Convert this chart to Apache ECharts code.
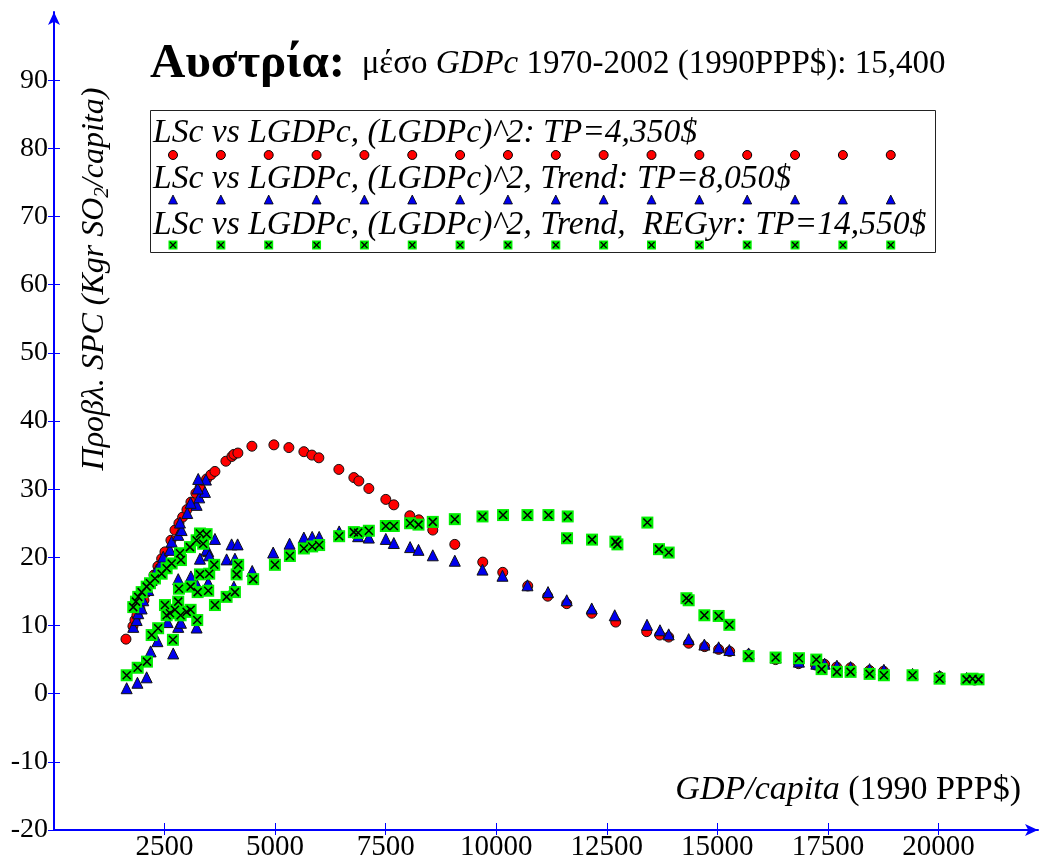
<!DOCTYPE html>
<html><head><meta charset="utf-8">
<script src="https://cdn.jsdelivr.net/npm/echarts@6/dist/echarts.min.js"></script>
<style>html,body{margin:0;padding:0;background:#fff}#c{width:1044px;height:863px}</style>
</head><body><div id="c"></div>
<script>
const xTicks = [2500,5000,7500,10000,12500,15000,17500,20000];
const yTicks = [-20,-10,0,10,20,30,40,50,60,70,80,90];
const legendLabels = [
  'LSc vs LGDPc, (LGDPc)^2: TP=4,350$',
  'LSc vs LGDPc, (LGDPc)^2, Trend: TP=8,050$',
  'LSc vs LGDPc, (LGDPc)^2, Trend,  REGyr: TP=14,550$'
];
const titleCountry = 'Αυστρία:';
const titleRest = ' 1970-2002 (1990PPP$): 15,400';
const yName = ['Προβλ. SPC (Kgr SO', '2', '/capita)'];
const xName = ['GDP/capita', ' (1990 PPP$)'];

const redModel = [[1627,8.0],[1785,9.9],[1831,10.8],[1876,11.5],[1944,12.4],[2034,13.7],[2102,14.9],[2192,16.2],[2260,17.4],[2350,18.7],[2434,19.8],[2509,20.8],[2644,22.5],[2735,24.0],[2825,25.0],[2909,25.9],[3006,27.0],[3096,28.1],[3209,29.4],[3300,30.2],[3451,31.5],[3548,32.1],[3639,32.6],[3887,34.1],[4023,34.8],[4068,35.1],[4158,35.3],[4475,36.3],[4972,36.5],[5311,36.1],[5650,35.5],[5831,35.0],[5989,34.6],[6441,32.9],[6780,31.7],[6893,31.2],[7119,30.1],[7503,28.5],[7684,27.7],[8046,26.1],[8249,25.5],[8565,24.0],[9063,21.9],[9695,19.3],[10147,17.8],[10712,15.8],[11164,14.3],[11594,13.2],[12159,11.8],[12701,10.5],[13402,9.1],[13696,8.6],[13899,8.3],[14351,7.4],[14713,6.9],[15029,6.5],[15278,6.2],[15707,5.7],[16317,5.0],[16837,4.4],[17221,4.2],[17425,4.3],[17696,3.9],[18012,3.8],[18442,3.4],[18758,3.3],[19413,2.7],[20024,2.5],[20634,2.1],[20815,2.0]];

const blueModel = [[1643,0.8],[1887,1.6],[2095,2.4],[2185,6.2],[2339,7.7],[2696,5.9],[2570,10.5],[2809,9.8],[2870,10.4],[3225,9.7],[2809,16.8],[3096,17.2],[3487,16.3],[3239,15.9],[3300,19.8],[3487,20.9],[3903,19.7],[4091,19.8],[4068,15.7],[4482,18.0],[3639,22.7],[4016,21.9],[4152,21.9],[4956,20.7],[3451,21.1],[3510,20.3],[5327,22.0],[5650,22.9],[5838,23.0],[5996,23.0],[6448,23.8],[6877,23.1],[7119,22.9],[7503,22.7],[7684,22.1],[8052,21.5],[8242,21.1],[8565,20.3],[9063,19.5],[9689,18.2],[10141,17.3],[10706,15.9],[11171,14.9],[11594,13.7],[12159,12.5],[12679,11.5],[13409,10.1],[13702,9.3],[13899,8.7],[14351,8.0],[14706,7.2],[15029,6.8],[15271,6.4],[15707,5.9],[16317,5.3],[16844,4.7],[17237,4.4],[17425,4.4],[17703,4.1],[18012,3.9],[18442,3.6],[18765,3.5],[19413,2.9],[20024,2.6],[20634,2.3],[1792,9.8],[1869,10.8],[1905,11.8],[1982,12.5],[2018,13.7],[2131,15.2],[2208,16.7],[2321,18.2],[2418,19.2],[2470,20.1],[2622,21.1],[2660,22.3],[2809,23.3],[2886,24.0],[2848,25.1],[3013,26.5],[3225,27.7],[3089,28.0],[3284,28.8],[3413,29.6],[3248,30.1],[3435,31.4],[3261,31.5]];

const greenModel = [[1643,2.7],[1892,3.8],[2102,4.7],[2208,8.6],[2355,9.6],[2689,7.9],[2547,11.5],[2809,13.5],[2622,11.8],[2735,12.3],[2863,11.5],[2999,12.0],[3089,12.3],[3239,10.8],[2825,15.4],[3089,15.7],[3248,14.9],[3487,15.1],[3639,13.0],[3903,14.2],[4091,14.9],[3300,17.5],[3510,17.6],[3623,18.9],[4129,17.5],[4165,18.9],[4504,16.8],[4995,18.9],[5334,20.2],[2509,13.0],[1792,12.7],[1853,13.5],[1905,14.2],[1982,14.9],[2095,15.7],[2170,16.2],[2283,16.9],[2434,17.6],[2547,18.4],[2660,19.1],[2870,19.6],[2848,20.6],[3074,21.5],[3225,22.5],[3374,22.0],[3300,23.5],[3451,23.4],[5650,21.3],[5838,21.6],[5996,21.8],[6448,23.1],[6780,23.7],[6877,23.6],[7119,23.9],[7503,24.6],[7684,24.6],[8052,25.0],[8242,24.8],[8565,25.2],[9063,25.6],[9689,26.0],[10154,26.2],[10706,26.2],[11180,26.2],[11616,26.0],[11601,22.8],[12166,22.6],[12694,22.3],[12740,21.9],[13417,25.1],[13680,21.2],[13899,20.7],[14300,14.0],[14351,13.7],[14706,11.5],[15029,11.4],[15271,10.1],[15707,5.5],[16317,5.3],[16844,5.2],[17237,5.0],[17357,3.6],[17703,3.2],[18012,3.2],[18442,2.9],[18765,2.7],[19413,2.7],[20024,2.2],[20634,2.1],[20770,2.2],[20905,2.1]];

const SERIF = '"Liberation Serif","DejaVu Serif","Times New Roman",serif';
const AXIS_BLUE = '#0000ff';
const XPATH = 'path://M0,0L10,10M10,0L0,10';

const chart = echarts.init(document.getElementById('c'), null, {renderer: 'canvas'});

function axisBase(extra) {
  return Object.assign({
    type: 'value',
    splitLine: {show: false},
    axisLine: {onZero: false}
  }, extra);
}

const graphics = [];
graphics.push({type: 'rect', shape: {x: 150.5, y: 110.5, width: 785, height: 142}, style: {fill: 'none', stroke: '#222', lineWidth: 1}, z: 10});
const lineY = [133, 179, 225];
const markY = [155, 200, 245];
legendLabels.forEach((t, k) => {
  graphics.push({type: 'text', x: 153, y: lineY[k], style: {text: t, font: 'italic 33.6px ' + SERIF, fill: '#000', verticalAlign: 'middle'}, z: 11});
});
for (let i = 0; i < 16; i++) {
  const cx = 173 + i * 47.85;
  graphics.push({type: 'circle', shape: {cx: cx, cy: markY[0], r: 4.5}, style: {fill: '#ff0000', stroke: '#000', lineWidth: 1}, z: 11});
  graphics.push({type: 'polygon', shape: {points: [[cx, markY[1] - 5], [cx + 4.5, markY[1] + 4], [cx - 4.5, markY[1] + 4]]}, style: {fill: '#0000ee', stroke: '#000', lineWidth: 0.8}, z: 11});
  graphics.push({type: 'rect', shape: {x: cx - 4.5, y: markY[2] - 4.5, width: 9, height: 9}, style: {fill: '#00ee00'}, z: 11});
  graphics.push({type: 'polyline', shape: {points: [[cx - 3, markY[2] - 3], [cx + 3, markY[2] + 3]]}, style: {stroke: '#000', lineWidth: 1.2}, z: 12});
  graphics.push({type: 'polyline', shape: {points: [[cx + 3, markY[2] - 3], [cx - 3, markY[2] + 3]]}, style: {stroke: '#000', lineWidth: 1.2}, z: 12});
}
graphics.push({type: 'text', x: 150, y: 64, style: {
  text: '{b|' + titleCountry + '}{n|  μέσο }{i|GDPc}{n|' + titleRest + '}',
  verticalAlign: 'middle',
  rich: {
    b: {fontFamily: SERIF, fontWeight: 'bold', fontSize: 49, fill: '#000'},
    n: {fontFamily: SERIF, fontSize: 33, fill: '#000'},
    i: {fontFamily: SERIF, fontStyle: 'italic', fontSize: 33, fill: '#000'}
  }}, z: 11});
graphics.push({type: 'text', x: 95, y: 279, rotation: Math.PI / 2, style: {
  text: '{i|' + yName[0] + '}{s|' + yName[1] + '}{i|' + yName[2] + '}',
  align: 'center', verticalAlign: 'middle',
  rich: {
    i: {fontFamily: SERIF, fontStyle: 'italic', fontSize: 32, fill: '#000', lineHeight: 36},
    s: {fontFamily: SERIF, fontStyle: 'italic', fontSize: 21, fill: '#000', verticalAlign: 'bottom', lineHeight: 36, padding: [11, 0, 0, 0]}
  }}, z: 11});
graphics.push({type: 'text', x: 1021, y: 790, style: {
  text: '{i|' + xName[0] + '}{n|' + xName[1] + '}',
  align: 'right', verticalAlign: 'middle',
  rich: {
    i: {fontFamily: SERIF, fontStyle: 'italic', fontSize: 34, fill: '#000'},
    n: {fontFamily: SERIF, fontSize: 34, fill: '#000'}
  }}, z: 11});

const plain = v => String(v);

const option = {
  animation: false,
  backgroundColor: '#fff',
  grid: {left: 54, right: 6, top: 12, bottom: 33, containLabel: false},
  xAxis: [
    axisBase({min: 0, max: 22250, position: 'bottom',
      axisLine: {show: true, onZero: false, symbol: ['none', 'arrow'], symbolSize: [9, 13], lineStyle: {color: AXIS_BLUE, width: 2}},
      axisTick: {show: true, customValues: xTicks, length: 5, lineStyle: {color: AXIS_BLUE, width: 1}},
      axisLabel: {customValues: xTicks, formatter: plain, fontFamily: SERIF, fontSize: 29, color: '#000', margin: 3}
    }),
    axisBase({min: 0, max: 22250, position: 'bottom',
      axisLine: {show: false, onZero: false},
      axisTick: {show: true, inside: true, customValues: xTicks, length: 7, lineStyle: {color: AXIS_BLUE, width: 1}},
      axisLabel: {show: false}
    })
  ],
  yAxis: [
    axisBase({min: -20, max: 100, position: 'left',
      axisLine: {show: true, onZero: false, symbol: ['none', 'arrow'], symbolSize: [9, 13], lineStyle: {color: AXIS_BLUE, width: 2}},
      axisTick: {show: true, customValues: yTicks, length: 6, lineStyle: {color: AXIS_BLUE, width: 1}},
      axisLabel: {customValues: yTicks, formatter: plain, fontFamily: SERIF, fontSize: 28, color: '#000', margin: 6}
    }),
    axisBase({min: -20, max: 100, position: 'left',
      axisLine: {show: false, onZero: false},
      axisTick: {show: true, inside: true, customValues: yTicks, length: 6, lineStyle: {color: AXIS_BLUE, width: 1}},
      axisLabel: {show: false}
    })
  ],
  series: [
    {type: 'scatter', name: legendLabels[0], data: redModel, symbol: 'circle', symbolSize: 10,
      itemStyle: {color: '#ff0000', borderColor: '#111', borderWidth: 1, opacity: 1}, emphasis: {disabled: true}, z: 2},
    {type: 'scatter', name: legendLabels[1], data: blueModel, symbol: 'triangle', symbolSize: 11,
      itemStyle: {color: '#0000ee', borderColor: '#111', borderWidth: 1, opacity: 1}, emphasis: {disabled: true}, z: 3},
    {type: 'scatter', name: legendLabels[2], data: greenModel, symbol: 'rect', symbolSize: 12,
      itemStyle: {color: '#00ee00', borderWidth: 0, opacity: 1}, emphasis: {disabled: true}, z: 4},
    {type: 'scatter', name: legendLabels[2] + ' x', data: greenModel, symbol: XPATH, symbolSize: 8,
      itemStyle: {color: 'none', borderColor: '#000', borderWidth: 1.5, opacity: 1}, emphasis: {disabled: true}, z: 5}
  ],
  graphic: {elements: graphics}
};
chart.setOption(option);
</script></body></html>
